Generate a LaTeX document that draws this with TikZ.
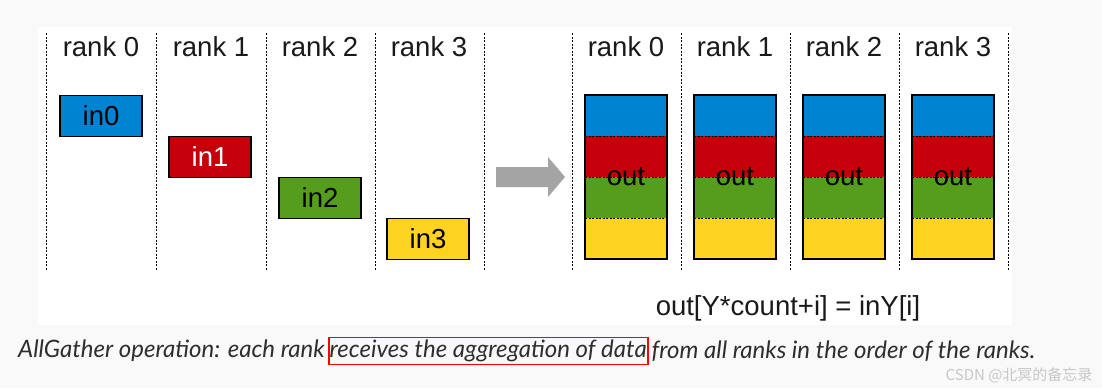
\documentclass[tikz,border=0pt]{standalone}
\usepackage{fontspec}
\setmainfont{Liberation Sans}
\newfontfamily\capfont{Lato}
\newfontfamily\cjkfont{Noto Sans CJK SC}
\usetikzlibrary{positioning}
\definecolor{lblue}{HTML}{0084D1}
\definecolor{lred}{HTML}{C5000B}
\definecolor{lgreen}{HTML}{579D1C}
\definecolor{lyellow}{HTML}{FFD320}
\definecolor{arrowgray}{HTML}{A4A4A4}
\definecolor{pagegray}{HTML}{F9F9F9}

\begin{document}
\begin{tikzpicture}[x=1pt, y=-1pt,
        ranklabel/.style={text=black!90, font=\fontsize{27.5}{27.5}\selectfont},
        cellbox/.style={draw=black, line width=1.2pt, minimum width=82pt, inner sep=0pt, font=\fontsize{27.5}{27.5}\selectfont},
        sepline/.style={black, line width=0.8pt, dash pattern=on 2pt off 1.5pt},
        captext/.style={inner sep=0pt, text=black!82, font=\capfont\itshape\fontsize{24}{24}\selectfont}]
        \fill[pagegray] (0,0) rectangle (1102,388);
        \fill[white] (38,27) rectangle (1012,325);
        \useasboundingbox (0,0) rectangle (1102,388);

        \foreach \x in {46, 156, 266, 375, 484, 572, 681, 790, 899, 1008}
            \draw[sepline] (\x, 33) -- (\x, 270);

        \foreach \i/\x in {0/101, 1/211, 2/320, 3/429}
            \node[ranklabel] (rl\i) at (\x, 47) {rank \i};
        \foreach \i/\x in {0/626, 1/735, 2/844, 3/953}
            \node[ranklabel] (rr\i) at (\x, 47) {rank \i};

        \foreach \i/\x/\y/\c/\t in {0/101/116/lblue/black, 1/210/157/lred/white, 2/320/198/lgreen/black, 3/428/239/lyellow/black}
            \node[cellbox, minimum height=41pt, fill=\c, text=\t] (in\i) at (\x, \y) {in\i};

        \fill[arrowgray] (496, 167) -- (548, 167) -- (548, 157) -- (565, 177)
            -- (548, 197) -- (548, 187) -- (496, 187) -- cycle;

        \foreach \i/\x in {0/626, 1/735, 2/844, 3/953} {
            \foreach \c [count=\k from 0] in {lblue, lred, lgreen, lyellow}
                \fill[\c] (\x-41, 95+41*\k) rectangle (\x+41, 136+41*\k);
            \foreach \k in {1, 2, 3}
                \draw[sepline, line width=1pt] (\x-41, 95+41*\k) -- (\x+41, 95+41*\k);
            \node[cellbox, minimum height=164pt] (out\i) at (\x, 177) {out};
        }

        \node[ranklabel] (formula) at (788, 308) {out[Y*count+i] = inY[i]};

        \node[captext, anchor=west] (cap1) at (18, 351) {AllGather operation: each rank};
        \node[captext, draw=red, line width=1.8pt, inner xsep=1pt, minimum height=27pt, right=3pt of cap1] (cap2) {receives the aggregation of data};
        \node[captext, right=3pt of cap2] (cap3) {from all ranks in the order of the ranks.};

        \node[text=black!22, font=\cjkfont\fontsize{15}{15}\selectfont, anchor=east] (mark) at (1096, 375) {CSDN @北冥的备忘录};
    \end{tikzpicture}
\end{document}
